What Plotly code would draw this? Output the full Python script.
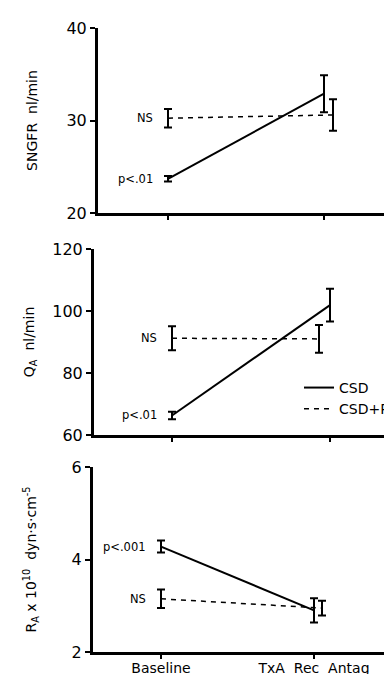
import plotly.graph_objects as go

# ---- data ----
categories = ["Baseline", "TxA\u00a0\u00a0Rec\u00a0\u00a0Antag"]
x_pos = [0, 1]

sngfr_csd = [23.7, 32.9]
sngfr_csd_err = [0.3, 2.0]
sngfr_csdp = [30.25, 30.6]
sngfr_csdp_err = [1.0, 1.7]

qa_csd = [66.3, 101.9]
qa_csd_err = [1.2, 5.3]
qa_csdp = [91.2, 91.0]
qa_csdp_err = [3.9, 4.5]

ra_csd = [4.28, 2.90]
ra_csd_err = [0.13, 0.26]
ra_csdp = [3.15, 2.95]
ra_csdp_err = [0.20, 0.16]

sig_csd = ["p<.01", "p<.01", "p<.001"]
sig_csdp = ["NS", "NS", "NS"]

y_titles = ["SNGFR\u00a0\u00a0nl/min", "Q<sub>A</sub>\u00a0\u00a0nl/min",
            "R<sub>A</sub>\u00a0x\u00a010<sup>10</sup>\u00a0\u00a0dyn·s·cm<sup>-5</sup>"]
y_ranges = [[20, 40], [60, 120], [2, 6]]
y_ticks = [[20, 30, 40], [60, 80, 100, 120], [2, 4, 6]]

# ---- layout config (pixels of a 392x674 page) ----
W, H = 392, 674
panels = [
    dict(l=90, r=378, b0=160, b1=316, top=20, bot=205, dodge=9, standoff=26),
    dict(l=86, r=380, b0=164, b1=322, top=241, bot=427, dodge=-11, standoff=15),
    dict(l=85, r=378, b0=153, b1=306, top=459, bot=644, dodge=8, standoff=32),
]
series = [
    (sngfr_csd, sngfr_csd_err, sngfr_csdp, sngfr_csdp_err),
    (qa_csd, qa_csd_err, qa_csdp, qa_csdp_err),
    (ra_csd, ra_csd_err, ra_csdp, ra_csdp_err),
]

FONT = "DejaVu Sans, Liberation Sans, sans-serif"
fig = go.Figure()
layout = dict(
    width=W, height=H, margin=dict(l=0, r=0, t=0, b=0),
    paper_bgcolor="white", plot_bgcolor="white",
    font=dict(family=FONT, color="black"),
    showlegend=True,
    legend=dict(x=291 / W, y=0.460, xanchor="left", yanchor="top",
                font=dict(size=14, color="black", family=FONT),
                bgcolor="rgba(0,0,0,0)", tracegroupgap=0, itemwidth=30),
)
annotations = []
for i, (p, s) in enumerate(zip(panels, series)):
    n = "" if i == 0 else str(i + 1)
    unit = p["b1"] - p["b0"]
    xr = [(p["l"] - p["b0"]) / unit, (p["r"] - p["b0"]) / unit]
    dodge = p["dodge"] / unit
    csd, csd_e, csdp, csdp_e = s
    xa, ya = "x" + n, "y" + n
    fig.add_trace(go.Scatter(
        x=x_pos, y=csd, mode="lines", name="CSD",
        line=dict(color="black", width=2),
        error_y=dict(type="data", array=csd_e, color="black", thickness=2, width=4),
        xaxis=xa, yaxis=ya, showlegend=(i == 1), legendrank=1))
    fig.add_trace(go.Scatter(
        x=[x_pos[0], x_pos[1] + dodge], y=csdp, mode="lines", name="CSD+P",
        line=dict(color="black", width=1.5, dash="5px,5px"),
        error_y=dict(type="data", array=csdp_e, color="black", thickness=2, width=4),
        xaxis=xa, yaxis=ya, showlegend=(i == 1), legendrank=2))
    for val, txt in ((csd[0], sig_csd[i]), (csdp[0], sig_csdp[i])):
        annotations.append(dict(x=x_pos[0], y=val, xref=xa, yref=ya, text=txt,
                                showarrow=False, xanchor="right", xshift=-13,
                                font=dict(size=11.5, color="black", family=FONT)))
    dom_x = [p["l"] / W, p["r"] / W]
    dom_y = [1 - p["bot"] / H, 1 - p["top"] / H]
    layout["xaxis" + n] = dict(
        domain=dom_x, range=xr, anchor=ya, showline=True, linewidth=2.5,
        linecolor="black", showgrid=False, zeroline=False, tickvals=x_pos,
        ticktext=categories, showticklabels=(i == 2), ticks="outside", ticklen=4,
        tickwidth=1.5, tickcolor="black", tickfont=dict(size=14, color="black", family=FONT),
        ticklabelstandoff=-3, fixedrange=True, automargin=False)
    layout["yaxis" + n] = dict(
        domain=dom_y, range=y_ranges[i], anchor=xa, showline=True, linewidth=3,
        linecolor="black", showgrid=False, zeroline=False, tickvals=y_ticks[i],
        ticks="outside", ticklen=5, tickwidth=2, tickcolor="black",
        tickfont=dict(size=16, color="black", family=FONT),
        title=dict(text=y_titles[i], font=dict(size=14, color="black", family=FONT),
                   standoff=p["standoff"]),
        fixedrange=True, automargin=False)
layout["annotations"] = annotations
fig.update_layout(**layout)
fig.write_html("out.html")
